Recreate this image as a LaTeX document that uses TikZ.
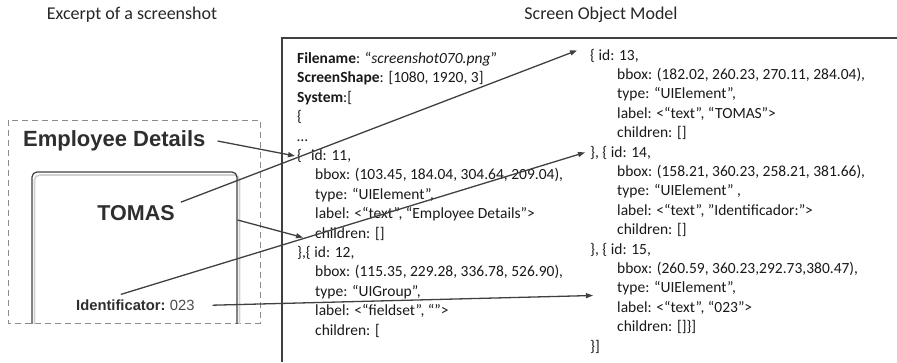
\documentclass[tikz,border=0pt]{standalone}
\usepackage{fontspec}
\setmainfont{Carlito}
\newfontfamily\shotfont{Liberation Sans}
\usetikzlibrary{arrows.meta}
\usetikzlibrary{positioning}
\definecolor{inkgray}{HTML}{404040}
\definecolor{framegray}{HTML}{8C8C8C}
\definecolor{shottext}{HTML}{2E2E2E}

\begin{document}
\begin{tikzpicture}[x=1pt, y=-1pt]

  \def\lx{297}
  \def\rx{590}
  \def\ls{19.4}

  % looks that repeat
  \tikzset{
    codeline/.style={anchor=base west, inner sep=0pt, text=black!90,
      font=\fontsize{15.5}{18}\selectfont},
    title/.style={font=\fontsize{18}{22}\selectfont, text=black!85},
    shot/.style={inner sep=0pt, text=shottext},
    conn/.style={draw=inkgray, line width=1.3pt,
      -{Triangle[length=7pt, width=5pt]}}
  }

  \useasboundingbox (0,0) rectangle (897,362);

  % titles
  \node[title] (ttl1) at (132,15) {Excerpt of a screenshot};
  \node[title] (ttl2) at (601,15) {Screen Object Model};

  % frame of the object model
  \draw[inkgray, line width=1.3pt] (282,362) -- (282,38) -- (897,38);

  % the excerpt
  \draw[framegray, dash pattern=on 6pt off 4pt, line width=0.8pt]
    (8,120) rectangle (260,323);
  \begin{scope}
    \clip (0,120) rectangle (270,323);
    \draw[black!18, line width=1.6pt, rounded corners=5pt]
      (34.5,175) rectangle (239.5,360);
    \node[draw=inkgray, line width=1.2pt, rounded corners=5pt,
      minimum width=205pt, minimum height=190pt] (card) at (134.5,267) {};
  \end{scope}

  \node[shot, anchor=west, font=\shotfont\bfseries\fontsize{22}{26}\selectfont]
    (ed) at (23,141) {Employee Details};
  \node[shot, font=\shotfont\bfseries\fontsize{21.5}{26}\selectfont]
    (tomas) at (136,213) {TOMAS};
  \node[shot, anchor=west, font=\shotfont\bfseries\fontsize{14.75}{18}\selectfont]
    (idlabel) at (76,305) {Identificator:};
  \node[shot, anchor=base west, text=black!70,
    font=\shotfont\fontsize{14.75}{18}\selectfont]
    (idvalue) at ([xshift=4pt]idlabel.base east) {023};

  % left column of the model
  \foreach \dx/\txt [count=\i] in {
      0/{\textbf{Filename}: “\textit{screenshot070.png}”},
      0/{\textbf{ScreenShape}: [1080, 1920, 3]},
      0/{\textbf{System}:[},
      0/{\{},
      0/{…},
      0/{\{\hspace{9pt}id: 11,},
      18/{bbox: (103.45, 184.04, 304.64, 209.04),},
      18/{type: “UIElement”,},
      18/{label: <“text”, “Employee Details”>},
      18/{children: []},
      0/{\},\{ id: 12,},
      18/{bbox: (115.35, 229.28, 336.78, 526.90),},
      18/{type: “UIGroup”,},
      18/{label: <“fieldset”, “”>},
      18/{children: [}}
    \node[codeline] (l\i) at (\lx+\dx, 63.5+\ls*\i-\ls) {\txt};

  % right column of the model
  \foreach \dx/\txt [count=\i] in {
      0/{\{ id: 13,},
      27/{bbox: (182.02, 260.23, 270.11, 284.04),},
      27/{type: “UIElement”,},
      27/{label: <“text”, “TOMAS”>},
      27/{children: []},
      0/{\}, \{ id: 14,},
      27/{bbox: (158.21, 360.23, 258.21, 381.66),},
      27/{type: “UIElement” ,},
      27/{label: <“text”, ”Identificador:”>},
      27/{children: []},
      0/{\}, \{ id: 15,},
      27/{bbox: (260.59, 360.23,292.73,380.47),},
      27/{type: “UIElement”,},
      27/{label: <“text”, “023”>},
      27/{children: []\}]},
      0/{\}]}}
    \node[codeline] (r\i) at (\rx+\dx, 60+\ls*\i-\ls) {\txt};

  % connectors
  \draw[conn] ([xshift=12pt]ed.east) -- ([xshift=-2pt]l6.west);
  \draw[conn] ([xshift=6pt, yshift=3pt]tomas.north east)
    -- ([xshift=-13pt, yshift=5pt]r1.west);
  \draw[conn] ([yshift=47pt]card.east) -- ([xshift=-12pt, yshift=-4pt]l10.west);
  \draw[conn] ([yshift=5pt]idlabel.north) -- ([xshift=-5pt]r6.west);
  \draw[conn] ([xshift=18pt]idvalue.east) -- ([xshift=-24pt]r13.south west);

\end{tikzpicture}
\end{document}
